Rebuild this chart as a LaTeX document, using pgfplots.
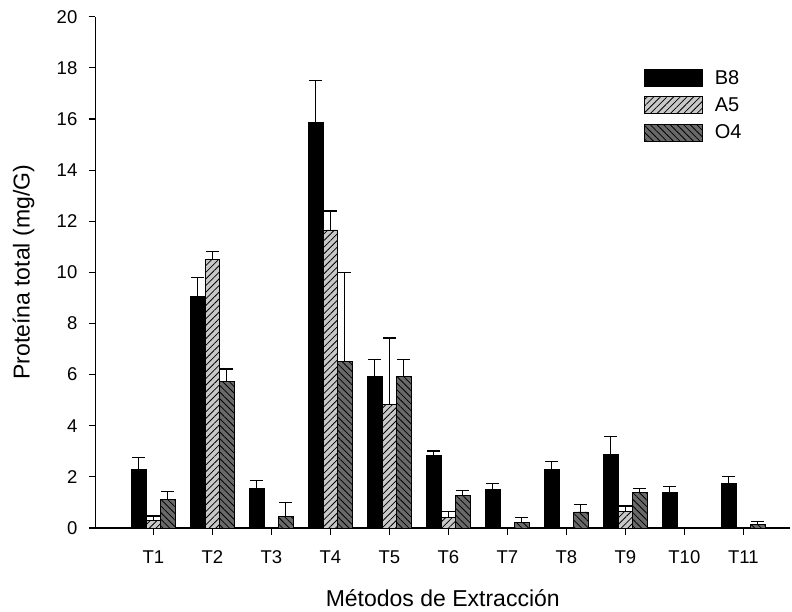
\documentclass[border=0pt]{standalone}
\usepackage{fontspec}
\setmainfont{Liberation Sans}
\usepackage{pgfplots}
\pgfplotsset{compat=1.18}
\usetikzlibrary{patterns.meta}
\definecolor{aFill}{RGB}{200,200,200}
\definecolor{oFill}{RGB}{105,105,105}
\newcommand\tickfont{\fontsize{18.5}{21}\selectfont}
\newcommand\legfont{\fontsize{20}{22}\selectfont}
\pgfplotsset{myerr/.style={
  error bars/y dir=plus, error bars/y explicit,
  error bars/error bar style={line width=1.2pt, black, solid},
  error bars/error mark options={rotate=90, mark size=6.5pt, line width=1.2pt, black}}}
\begin{document}
\begin{tikzpicture}
\path[use as bounding box] (0,0) rectangle (792pt,611pt);
\begin{axis}[
  at={(95.5pt,83pt)}, anchor=south west,
  scale only axis, width=694.5pt, height=511.3pt,
  xmin=0.02, xmax=11.79, ymin=0, ymax=20,
  axis x line*=bottom, axis y line*=left,
  axis line style={line width=1.1pt, black},
  tick align=outside, major tick length=7pt,
  tick style={line width=1.1pt, black},
  ytick={0,2,...,20},
  xtick={1,...,11},
  xticklabels={T1,T2,T3,T4,T5,T6,T7,T8,T9,T10,T11},
  /pgf/number format/assume math mode=true,
  yticklabel style={font=\tickfont, inner sep=0pt, xshift=-11pt},
  xticklabel style={font=\tickfont, inner sep=0pt, anchor=base, yshift=-28pt},
  ybar=0pt, bar width=14.5pt,
  ylabel={Proteína total (mg/G)},
  xlabel={Métodos de Extracción},
  label style={font=\fontsize{23}{26}\selectfont},
  ylabel style={at={(axis description cs:-0.095,0.5)}, anchor=base, rotate=0},
  xlabel style={at={(axis description cs:0.5,-0.1545)}, anchor=base},
  legend image code/.code={\draw[#1, line width=0.6pt] (0pt,-8.5pt) rectangle (58pt,8.5pt);},
  legend style={draw=none, fill=none, inner sep=0pt, at={(0.7898,0.8997)}, anchor=north west,
    font=\legfont, /tikz/row sep=8pt, /tikz/column sep=10pt,
    cells={anchor=west}},
  legend cell align=left,
]
\addplot[fill=black, draw=black, line width=0.6pt, myerr] coordinates {
 (1,2.30) +- (0,0.45)
 (2,9.07) +- (0,0.74)
 (3,1.56) +- (0,0.29)
 (4,15.88) +- (0,1.62)
 (5,5.94) +- (0,0.66)
 (6,2.84) +- (0,0.17)
 (7,1.51) +- (0,0.23)
 (8,2.29) +- (0,0.30)
 (9,2.89) +- (0,0.68)
 (10,1.39) +- (0,0.22)
 (11,1.75) +- (0,0.28)
};
\addplot[fill=aFill, draw=black, line width=0.6pt, myerr,
  postaction={pattern={Lines[angle=45,distance=4.7pt,line width=0.8pt]}, pattern color=black}] coordinates {
 (1,0.31) +- (0,0.16)
 (2,10.52) +- (0,0.31)
 (4,11.66) +- (0,0.74)
 (5,4.85) +- (0,2.58)
 (6,0.40) +- (0,0.26)
 (9,0.66) +- (0,0.20)
};
\addplot[fill=oFill, draw=black, line width=0.6pt, myerr,
  postaction={pattern={Lines[angle=-45,distance=4.7pt,line width=0.8pt]}, pattern color=black}] coordinates {
 (1,1.12) +- (0,0.30)
 (2,5.75) +- (0,0.47)
 (3,0.44) +- (0,0.55)
 (4,6.53) +- (0,3.45)
 (5,5.94) +- (0,0.66)
 (6,1.27) +- (0,0.19)
 (7,0.23) +- (0,0.19)
 (8,0.63) +- (0,0.28)
 (9,1.38) +- (0,0.17)
 (11,0.14) +- (0,0.11)
};
\legend{B8,A5,O4}
\end{axis}
\end{tikzpicture}
\end{document}
